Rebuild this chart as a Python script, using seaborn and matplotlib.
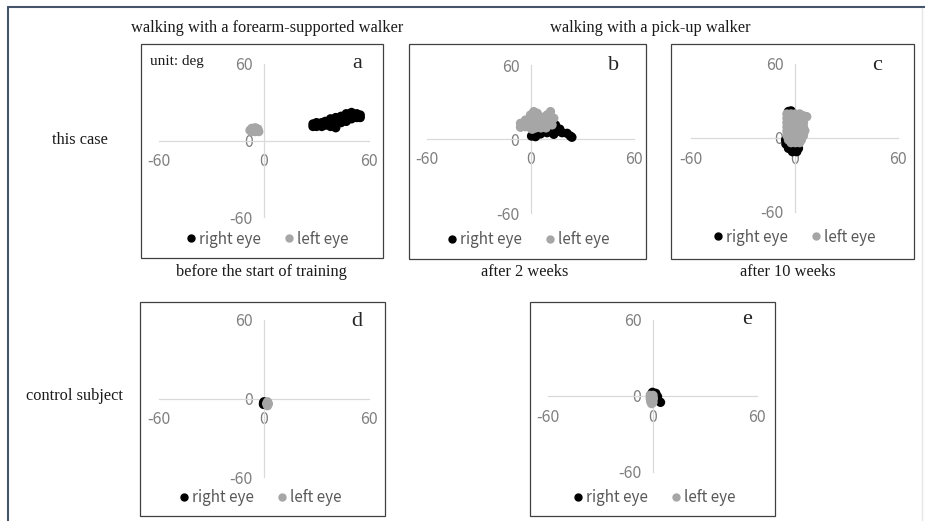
import matplotlib
matplotlib.use("Agg")
import matplotlib.pyplot as plt
from matplotlib.lines import Line2D
from matplotlib.patches import Rectangle
import seaborn as sns
import pandas as pd

sns.set_style("white")
plt.rcParams["font.family"] = ["Noto Sans CJK JP", "DejaVu Sans"]
plt.rcParams["axes.unicode_minus"] = False

W, H = 925, 521

# eye positions in degrees (x = horizontal, y = vertical)
a_right = [(28, 11), (28, 13), (30, 11), (30, 14), (33, 11), (33, 14), (35, 12), (35, 15),
           (38, 11), (38, 14), (38, 17), (41, 10), (41, 13), (41, 16), (41, 18), (44, 14),
           (44, 17), (44, 19), (47, 15), (47, 18), (47, 21), (50, 17), (50, 20), (50, 22),
           (53, 18), (53, 21), (55, 18), (55, 20)]
a_left = [(-8, 8), (-7, 9.5), (-5, 10), (-3.5, 9), (-3, 7), (-5, 7), (-7, 7)]

b_right = [(0.6, 2.4), (2.9, 1.9), (5.8, 4.1), (9.6, 5.1), (12.5, 7.3), (14.5, 10), (14.5, 11.4),
           (15.4, 6.2), (18.3, 5.1), (21.2, 4.6), (23.1, 2.4), (24, 1.4), (13.5, 3.8), (17, 8)]
b_left = [(-5.8, 12.7), (-5.8, 9.5), (-2.9, 15.4), (0, 19.5), (1.9, 22.2), (3.9, 20.9), (6.7, 17.6),
          (9.6, 19.5), (11.6, 22.2), (13.5, 16.8), (12.5, 11.4), (1, 13), (4, 14), (7, 12),
          (10, 13), (3, 9), (0, 9), (6, 9), (9, 9), (-3, 10), (-3, 12), (4, 17), (1, 17),
          (8, 15), (11, 16), (1, 7.9), (8.7, 9.5)]

c_right = [(-3.5, 21.5), (-2, 22), (-5, -4.9), (-3.5, -8.4), (-1.2, -11.1), (1.3, -11.1),
           (1.3, -7), (-1.5, -5.7), (2.3, -8.4), (-5.2, -1.6)]
c_left = [(-4.4, 19.5), (-2, 19.5), (0.5, 19.5), (3, 19.5), (5.2, 18), (7.1, 17.3),
          (-4.4, 16), (-2, 16), (0.5, 16), (3, 16), (5.2, 16),
          (-4.4, 12.5), (-2, 12.5), (0.5, 12.5), (3, 12.5), (5.2, 12.5),
          (-4.4, 9), (-2, 9), (0.5, 9), (3, 9), (5.2, 9), (6, 6),
          (-4.4, 5.5), (-2, 5.5), (0.5, 5.5), (3, 5.5), (5.2, 5.5),
          (-4.4, 2), (-2, 2), (0.5, 2), (3, 2), (5.2, 2),
          (-3.5, -1.5), (-1, -1.5), (1.5, -1.5), (4, -1.5), (-2, -3.8), (0.5, -3.8), (3, -3.8)]

d_right = [(-0.3, -3.5), (0, -2.5), (-0.3, -4.5)]
d_left = [(2, -2.5), (2.5, -4), (2, -5.5), (1.5, -4)]

e_right = [(0, 2.9), (1.9, 2.1), (2.9, -0.5), (3.1, -3.1), (4.6, -5), (-1, 0.8)]
e_left = [(-1.3, 0.5), (0.3, 0.5), (-1.3, -2), (0.5, -2), (-1, -4.5), (0.3, -5), (-0.5, -6)]

panel_letters = ["a", "b", "c", "d", "e"]
ticks = [-60, 0, 60]


def fx(px):
    return px / W


def fy(py):
    return 1 - py / H


fig = plt.figure(figsize=(9.25, 5.21), dpi=100)

# panel layout in pixels: plot area (x0, x1, top, bottom), chart box, legend centre, letter
layout = {
    "a": dict(plot=(159, 369, 64, 217), box=(141, 383, 44, 258), leg=(266, 239), let=(357, 63)),
    "b": dict(plot=(427, 634, 65, 213), box=(409, 646, 44, 259), leg=(527, 240), let=(614, 65)),
    "c": dict(plot=(691, 898, 64, 212), box=(671, 914, 44, 259), leg=(793, 237), let=(877, 65)),
    "d": dict(plot=(159, 369, 320, 477), box=(140, 385, 302, 516), leg=(259, 498), let=(357, 322)),
    "e": dict(plot=(548, 757, 320, 472), box=(530, 775, 302, 516), leg=(653, 498), let=(747, 320)),
}
series = {
    "a": (a_right, a_left), "b": (b_right, b_left), "c": (c_right, c_left),
    "d": (d_right, d_left), "e": (e_right, e_left),
}
colours = {"right eye": "#000000", "left eye": "#a6a6a6"}

for key in panel_letters:
    L = layout[key]
    x0, x1, t, b = L["plot"]
    ax = fig.add_axes([fx(x0), fy(b), (x1 - x0) / W, (b - t) / H])
    right, left = series[key]
    rows = [{"x": p[0], "y": p[1], "eye": "right eye"} for p in right]
    rows += [{"x": p[0], "y": p[1], "eye": "left eye"} for p in left]
    df = pd.DataFrame(rows)
    sns.scatterplot(data=df, x="x", y="y", hue="eye", hue_order=["right eye", "left eye"],
                    palette=colours, s=45, linewidth=0, ax=ax, legend=False, zorder=3)
    ax.set_xlim(-60, 60)
    ax.set_ylim(-60, 60)
    ax.patch.set_alpha(0)
    for s in ["top", "right"]:
        ax.spines[s].set_visible(False)
    for s in ["left", "bottom"]:
        ax.spines[s].set_position("zero")
        ax.spines[s].set_color("#d9d9d9")
        ax.spines[s].set_linewidth(0.9)
    ax.set_xticks(ticks)
    ax.set_yticks(ticks)
    ax.tick_params(length=0, labelsize=11.5, labelcolor="#7f7f7f")
    ax.tick_params(axis="x", pad=9)
    ax.tick_params(axis="y", pad=8)
    ax.set_xlabel("")
    ax.set_ylabel("")

    handles = [Line2D([], [], marker="o", ls="", color=colours[k], markersize=5)
               for k in ["right eye", "left eye"]]
    ax.legend(handles, ["right eye", "left eye"], loc="center",
              bbox_to_anchor=(fx(L["leg"][0]), fy(L["leg"][1])), bbox_transform=fig.transFigure,
              ncol=2, frameon=False, fontsize=11, handletextpad=0.05, columnspacing=1.3,
              handlelength=1.0, labelcolor="#595959")

    bx0, bx1, bt, bb = L["box"]
    fig.add_artist(Rectangle((fx(bx0), fy(bb)), (bx1 - bx0) / W, (bb - bt) / H,
                             transform=fig.transFigure, fill=False, ec="#404040", lw=0.9))
    fig.text(fx(L["let"][0]), fy(L["let"][1]), key, ha="center", va="center",
             family="Liberation Serif", fontsize=16)

# labels around the panels
serif = dict(family="Liberation Serif", fontsize=11.8, ha="center", va="center", color="#1a1a1a")
fig.text(fx(267), fy(28), "walking with a forearm-supported walker", **serif)
fig.text(fx(650), fy(28), "walking with a pick-up walker", **serif)
fig.text(fx(80), fy(140), "this case", **serif)
fig.text(fx(75), fy(396), "control subject", **serif)
fig.text(fx(261), fy(272), "before the start of training", **serif)
fig.text(fx(525), fy(272), "after 2 weeks", **serif)
fig.text(fx(788), fy(272), "after 10 weeks", **serif)
fig.text(fx(150), fy(62), "unit: deg", family="Liberation Serif", fontsize=11,
         ha="left", va="center", color="#1a1a1a")

# outer frame
fig.add_artist(Line2D([fx(8), fx(925)], [fy(7), fy(7)], transform=fig.transFigure,
                      color="#44546a", lw=1.5))
fig.add_artist(Line2D([fx(8), fx(8)], [fy(7), fy(521)], transform=fig.transFigure,
                      color="#44546a", lw=1.5))
fig.add_artist(Line2D([fx(922), fx(922)], [fy(8), fy(521)], transform=fig.transFigure,
                      color="#e6e6e6", lw=1))

fig.savefig("out.png", dpi=100)
